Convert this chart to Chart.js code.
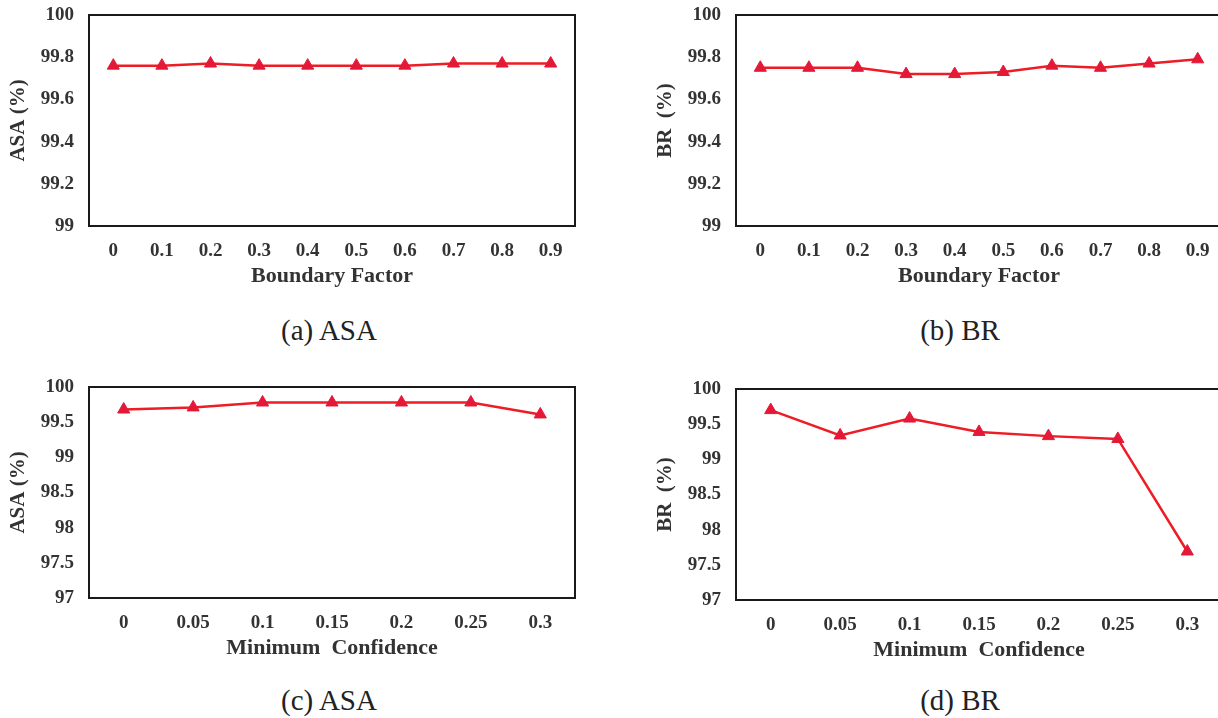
<!DOCTYPE html>
<html>
<head>
<meta charset="utf-8">
<script src="https://cdn.jsdelivr.net/npm/chart.js@4"></script>
<style>
  html, body { margin: 0; padding: 0; background: #fff; overflow: hidden; }
  body { width: 1218px; height: 718px; position: relative; }
  .pane { position: absolute; }
  .cap { position: absolute; transform: translate(-50%, -50%); font-family: 'Liberation Serif', serif;
         font-size: 29px; color: #222; white-space: nowrap; }
</style>
</head>
<body>
<div class="pane" style="left:0px;top:0px"><canvas id="grafico_a" width="600" height="300"></canvas></div>
<div class="pane" style="left:647px;top:0px"><canvas id="grafico_b" width="600" height="300"></canvas></div>
<div class="pane" style="left:0px;top:372px"><canvas id="grafico_c" width="600" height="300"></canvas></div>
<div class="pane" style="left:647px;top:374px"><canvas id="grafico_d" width="600" height="300"></canvas></div>
<div class="cap" style="left:329px;top:330px">(a) ASA</div>
<div class="cap" style="left:960px;top:330px">(b) BR</div>
<div class="cap" style="left:329px;top:700px">(c) ASA</div>
<div class="cap" style="left:960px;top:700px">(d) BR</div>
<script>
// boundary factor sweep
var boundaryFactor = ['0', '0.1', '0.2', '0.3', '0.4', '0.5', '0.6', '0.7', '0.8', '0.9'];
var asaBoundary = [99.76, 99.76, 99.77, 99.76, 99.76, 99.76, 99.76, 99.77, 99.77, 99.77];
var brBoundary = [99.75, 99.75, 99.75, 99.72, 99.72, 99.73, 99.76, 99.75, 99.77, 99.79];

// minimum confidence sweep
var minConfidence = ['0', '0.05', '0.1', '0.15', '0.2', '0.25', '0.3'];
var asaConfidence = [99.68, 99.71, 99.78, 99.78, 99.78, 99.78, 99.61];
var brConfidence = [99.70, 99.34, 99.58, 99.39, 99.33, 99.29, 97.69];

// y range: min, max, step
var rangeBoundary = [99, 100, 0.2];
var rangeConfidence = [97, 100, 0.5];

var serif = 'Liberation Serif';

// black frame round the plot area
var caixa = {
  id: 'caixa',
  afterDraw: function(chart) {
    var a = chart.chartArea, ctx = chart.ctx;
    ctx.save();
    ctx.strokeStyle = '#1a1a1a';
    ctx.lineWidth = 2;
    ctx.strokeRect(a.left, a.top, a.right - a.left, a.bottom - a.top);
    ctx.restore();
  }
};

function grafico(id, labels, valores, range, tituloX, tituloY) {
  new Chart(document.getElementById(id), {
    type: 'line',
    data: {
      labels: labels,
      datasets: [{
        data: valores,
        borderColor: '#ee1c25',
        borderWidth: 2.5,
        backgroundColor: '#e31937',
        pointStyle: 'triangle',
        pointRadius: 7,
        pointBorderWidth: 1,
        pointBorderColor: '#e31937',
        tension: 0,
        fill: false
      }]
    },
    options: {
      responsive: false,
      animation: false,
      layout: { padding: { top: 15, right: 25, bottom: 0, left: 0 } },
      plugins: { legend: { display: false }, tooltip: { enabled: false } },
      scales: {
        x: {
          offset: true,
          grid: { display: false, drawTicks: false },
          border: { display: false },
          ticks: { padding: 14, color: '#333', font: { family: serif, size: 19, weight: 'bold' } },
          title: { display: true, text: tituloX, color: '#333', padding: { bottom: 10 },
                   font: { family: serif, size: 22, weight: 'bold' } },
          afterFit: function(s) { s.height = 74; }
        },
        y: {
          min: range[0],
          max: range[1],
          grid: { display: false, drawTicks: false },
          border: { display: false },
          ticks: {
            stepSize: range[2], padding: 15, color: '#333',
            font: { family: serif, size: 19, weight: 'bold' },
            callback: function(v) { return String(+v.toFixed(1)); }
          },
          title: { display: true, text: tituloY, color: '#333', padding: { top: 6 },
                   font: { family: serif, size: 21, weight: 'bold' } },
          afterFit: function(s) { s.width = 89; s.paddingTop = 0; s.paddingBottom = 0; }
        }
      }
    },
    plugins: [caixa]
  });
}

grafico('grafico_a', boundaryFactor, asaBoundary, rangeBoundary, 'Boundary Factor', 'ASA (%)');
grafico('grafico_b', boundaryFactor, brBoundary, rangeBoundary, 'Boundary Factor', 'BR  (%)');
grafico('grafico_c', minConfidence, asaConfidence, rangeConfidence, 'Minimum  Confidence', 'ASA (%)');
grafico('grafico_d', minConfidence, brConfidence, rangeConfidence, 'Minimum  Confidence', 'BR  (%)');
</script>
</body>
</html>
